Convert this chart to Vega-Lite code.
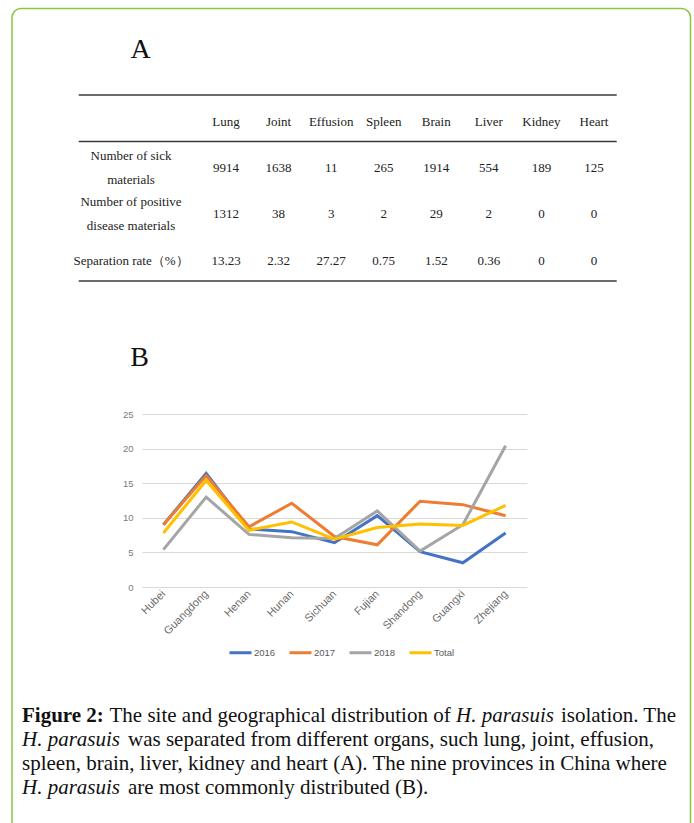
{
  "$schema": "https://vega.github.io/schema/vega-lite/v6.json",
  "width": 385,
  "height": 173,
  "autosize": {"type": "none"},
  "padding": {"left": 142, "top": 414, "right": 167, "bottom": 236},
  "background": "white",
  "config": {"view": {"stroke": null}},
  "resolve": {
    "scale": {"x": "independent", "y": "independent"},
    "axis": {"x": "independent", "y": "independent"}
  },
  "layer": [
    {
      "data": {"values": [{"box": "figure"}]},
      "mark": {"type": "rect", "filled": false, "stroke": "#8CC641", "strokeWidth": 1.5, "cornerRadius": 9},
      "encoding": {
        "x": {"datum": 0, "type": "quantitative", "scale": {"domain": [0, 1], "range": [-130, 548.5], "nice": false, "zero": false}, "axis": null},
        "x2": {"datum": 1},
        "y": {"datum": 0, "type": "quantitative", "scale": {"domain": [0, 1], "range": [-405.5, 426], "nice": false, "zero": false}, "axis": null},
        "y2": {"datum": 1}
      }
    },
    {
      "data": {"values": [{"panel": "A"}, {"panel": "B"}]},
      "mark": {"type": "text", "font": "Liberation Serif", "fontSize": 28, "align": "center", "baseline": "middle", "color": "#111111"},
      "encoding": {
        "x": {"field": "panel", "type": "nominal", "scale": {"type": "point", "domain": ["A", "B"], "range": [-1.5, -2.5], "padding": 0}, "axis": null},
        "y": {"field": "panel", "type": "nominal", "scale": {"type": "point", "domain": ["A", "B"], "range": [-364, -56], "padding": 0}, "axis": null},
        "text": {"field": "panel"}
      }
    },
    {
      "data": {"values": [{"row": "header"}, {"row": "sick"}]},
      "mark": {"type": "rule", "color": "#3a3a3a", "strokeWidth": 1.6},
      "encoding": {
        "x": {"datum": 0, "type": "quantitative", "scale": {"domain": [0, 1], "range": [-63.3, 474.7], "nice": false, "zero": false}, "axis": null},
        "x2": {"datum": 1},
        "y": {"field": "row", "type": "nominal", "bandPosition": 0, "scale": {"type": "band", "domain": ["header", "sick", "positive", "rate"], "range": [-319, -133], "paddingInner": 0, "paddingOuter": 0}, "axis": null}
      }
    },
    {
      "data": {"values": [{"row": "rate"}]},
      "mark": {"type": "rule", "color": "#3a3a3a", "strokeWidth": 1.6},
      "encoding": {
        "x": {"datum": 0, "type": "quantitative", "scale": {"domain": [0, 1], "range": [-63.3, 474.7], "nice": false, "zero": false}, "axis": null},
        "x2": {"datum": 1},
        "y": {"field": "row", "type": "nominal", "bandPosition": 1, "scale": {"type": "band", "domain": ["header", "sick", "positive", "rate"], "range": [-319, -133], "paddingInner": 0, "paddingOuter": 0}, "axis": null}
      }
    },
    {
      "data": {"values": [
        {"organ": "Lung"}, {"organ": "Joint"}, {"organ": "Effusion"}, {"organ": "Spleen"},
        {"organ": "Brain"}, {"organ": "Liver"}, {"organ": "Kidney"}, {"organ": "Heart"}
      ]},
      "mark": {"type": "text", "font": "Liberation Serif", "fontSize": 13, "align": "center", "baseline": "middle", "dy": 4, "color": "#222222"},
      "encoding": {
        "x": {"field": "organ", "type": "nominal", "scale": {"type": "point", "domain": ["Lung", "Joint", "Effusion", "Spleen", "Brain", "Liver", "Kidney", "Heart"], "range": [84, 452], "padding": 0}, "axis": null},
        "y": {"datum": "header", "type": "nominal", "scale": {"type": "band", "domain": ["header", "sick", "positive", "rate"], "range": [-319, -133], "paddingInner": 0, "paddingOuter": 0}, "axis": null},
        "text": {"field": "organ"}
      }
    },
    {
      "data": {"values": [
        {"organ": "Lung", "measure": "sick", "value": "9914"},
        {"organ": "Joint", "measure": "sick", "value": "1638"},
        {"organ": "Effusion", "measure": "sick", "value": "11"},
        {"organ": "Spleen", "measure": "sick", "value": "265"},
        {"organ": "Brain", "measure": "sick", "value": "1914"},
        {"organ": "Liver", "measure": "sick", "value": "554"},
        {"organ": "Kidney", "measure": "sick", "value": "189"},
        {"organ": "Heart", "measure": "sick", "value": "125"},
        {"organ": "Lung", "measure": "positive", "value": "1312"},
        {"organ": "Joint", "measure": "positive", "value": "38"},
        {"organ": "Effusion", "measure": "positive", "value": "3"},
        {"organ": "Spleen", "measure": "positive", "value": "2"},
        {"organ": "Brain", "measure": "positive", "value": "29"},
        {"organ": "Liver", "measure": "positive", "value": "2"},
        {"organ": "Kidney", "measure": "positive", "value": "0"},
        {"organ": "Heart", "measure": "positive", "value": "0"},
        {"organ": "Lung", "measure": "rate", "value": "13.23"},
        {"organ": "Joint", "measure": "rate", "value": "2.32"},
        {"organ": "Effusion", "measure": "rate", "value": "27.27"},
        {"organ": "Spleen", "measure": "rate", "value": "0.75"},
        {"organ": "Brain", "measure": "rate", "value": "1.52"},
        {"organ": "Liver", "measure": "rate", "value": "0.36"},
        {"organ": "Kidney", "measure": "rate", "value": "0"},
        {"organ": "Heart", "measure": "rate", "value": "0"}
      ]},
      "mark": {"type": "text", "font": "Liberation Serif", "fontSize": 13, "align": "center", "baseline": "middle", "dy": 3, "color": "#222222"},
      "encoding": {
        "x": {"field": "organ", "type": "nominal", "scale": {"type": "point", "domain": ["Lung", "Joint", "Effusion", "Spleen", "Brain", "Liver", "Kidney", "Heart"], "range": [84, 452], "padding": 0}, "axis": null},
        "y": {"field": "measure", "type": "nominal", "scale": {"type": "band", "domain": ["header", "sick", "positive", "rate"], "range": [-319, -133], "paddingInner": 0, "paddingOuter": 0}, "axis": null},
        "text": {"field": "value"}
      }
    },
    {
      "data": {"values": [
        {"measure": "sick", "label": "Number of sick\nmaterials"},
        {"measure": "positive", "label": "Number of positive\ndisease materials"}
      ]},
      "mark": {"type": "text", "font": "Liberation Serif", "fontSize": 13, "align": "center", "baseline": "middle", "dy": -9, "lineBreak": "\n", "lineHeight": 24, "color": "#222222"},
      "encoding": {
        "x": {"datum": "label", "type": "nominal", "scale": {"type": "point", "domain": ["label"], "range": [-11, -11], "padding": 0}, "axis": null},
        "y": {"field": "measure", "type": "nominal", "scale": {"type": "band", "domain": ["header", "sick", "positive", "rate"], "range": [-319, -133], "paddingInner": 0, "paddingOuter": 0}, "axis": null},
        "text": {"field": "label"}
      }
    },
    {
      "data": {"values": [
        {"measure": "rate", "label": "Separation rate（%）"}
      ]},
      "mark": {"type": "text", "font": "Liberation Serif", "fontSize": 13, "align": "center", "baseline": "middle", "dy": 3, "color": "#222222"},
      "encoding": {
        "x": {"datum": "label", "type": "nominal", "scale": {"type": "point", "domain": ["label"], "range": [-11, -11], "padding": 0}, "axis": null},
        "y": {"field": "measure", "type": "nominal", "scale": {"type": "band", "domain": ["header", "sick", "positive", "rate"], "range": [-319, -133], "paddingInner": 0, "paddingOuter": 0}, "axis": null},
        "text": {"field": "label"}
      }
    },
    {
      "data": {"values": [
        {"province": "Hubei", "series": "2016", "value": 9.0},
        {"province": "Guangdong", "series": "2016", "value": 16.4},
        {"province": "Henan", "series": "2016", "value": 8.4},
        {"province": "Hunan", "series": "2016", "value": 8.0},
        {"province": "Sichuan", "series": "2016", "value": 6.4},
        {"province": "Fujian", "series": "2016", "value": 10.3},
        {"province": "Shandong", "series": "2016", "value": 5.1},
        {"province": "Guangxi", "series": "2016", "value": 3.5},
        {"province": "Zhejiang", "series": "2016", "value": 7.8},
        {"province": "Hubei", "series": "2017", "value": 9.0},
        {"province": "Guangdong", "series": "2017", "value": 16.1},
        {"province": "Henan", "series": "2017", "value": 8.7},
        {"province": "Hunan", "series": "2017", "value": 12.1},
        {"province": "Sichuan", "series": "2017", "value": 7.3},
        {"province": "Fujian", "series": "2017", "value": 6.1},
        {"province": "Shandong", "series": "2017", "value": 12.4},
        {"province": "Guangxi", "series": "2017", "value": 11.9},
        {"province": "Zhejiang", "series": "2017", "value": 10.3},
        {"province": "Hubei", "series": "2018", "value": 5.4},
        {"province": "Guangdong", "series": "2018", "value": 13.0},
        {"province": "Henan", "series": "2018", "value": 7.6},
        {"province": "Hunan", "series": "2018", "value": 7.1},
        {"province": "Sichuan", "series": "2018", "value": 7.0},
        {"province": "Fujian", "series": "2018", "value": 11.0},
        {"province": "Shandong", "series": "2018", "value": 5.2},
        {"province": "Guangxi", "series": "2018", "value": 9.0},
        {"province": "Zhejiang", "series": "2018", "value": 20.4},
        {"province": "Hubei", "series": "Total", "value": 7.8},
        {"province": "Guangdong", "series": "Total", "value": 15.4},
        {"province": "Henan", "series": "Total", "value": 8.2},
        {"province": "Hunan", "series": "Total", "value": 9.4},
        {"province": "Sichuan", "series": "Total", "value": 6.9},
        {"province": "Fujian", "series": "Total", "value": 8.6},
        {"province": "Shandong", "series": "Total", "value": 9.1},
        {"province": "Guangxi", "series": "Total", "value": 8.9},
        {"province": "Zhejiang", "series": "Total", "value": 11.8}
      ]},
      "mark": {"type": "line", "strokeWidth": 3},
      "encoding": {
        "x": {
          "field": "province", "type": "nominal",
          "scale": {"type": "point", "domain": ["Hubei", "Guangdong", "Henan", "Hunan", "Sichuan", "Fujian", "Shandong", "Guangxi", "Zhejiang"], "padding": 0.5},
          "axis": {"title": null, "labelAngle": -45, "labelAlign": "right", "labelBaseline": "middle", "labelPadding": 5, "domain": false, "ticks": false, "grid": false, "labelFont": "Liberation Sans", "labelFontSize": 11, "labelColor": "#6b6b6b"}
        },
        "y": {
          "field": "value", "type": "quantitative",
          "scale": {"domain": [0, 25], "nice": false},
          "axis": {"title": null, "values": [0, 5, 10, 15, 20, 25], "grid": true, "gridColor": "#d9d9d9", "gridWidth": 1, "domain": false, "ticks": false, "labelPadding": 9, "labelFont": "Liberation Sans", "labelFontSize": 9.5, "labelColor": "#7a7a7a"}
        },
        "color": {
          "field": "series", "type": "nominal",
          "scale": {"domain": ["2016", "2017", "2018", "Total"], "range": ["#4472C4", "#ED7D31", "#A5A5A5", "#FFC000"]},
          "legend": {"title": null, "orient": "none", "legendX": 86, "legendY": 226, "direction": "horizontal", "symbolType": "stroke", "symbolSize": 484, "symbolStrokeWidth": 3, "labelOffset": 1, "columnPadding": 7, "padding": 0, "labelFont": "Liberation Sans", "labelFontSize": 9.5, "labelColor": "#595959"}
        }
      }
    },
    {
      "data": {"values": [{"line": 1, "text": "Figure 2:"}]},
      "mark": {"type": "text", "font": "Liberation Serif", "fontSize": 21, "fontWeight": "bold", "align": "left", "baseline": "middle", "color": "#111111"},
      "encoding": {
        "x": {"datum": "left", "type": "nominal", "scale": {"type": "point", "domain": ["left", "right"], "range": [-120, 534], "padding": 0}, "axis": null},
        "y": {"field": "line", "type": "ordinal", "scale": {"type": "point", "domain": [1, 2, 3, 4], "range": [302, 374], "padding": 0}, "axis": null},
        "text": {"field": "text"}
      }
    },
    {
      "data": {"values": [{"line": 2, "text": "H. parasuis"}, {"line": 4, "text": "H. parasuis"}]},
      "mark": {"type": "text", "font": "Liberation Serif", "fontSize": 21, "fontStyle": "italic", "align": "left", "baseline": "middle", "color": "#111111"},
      "encoding": {
        "x": {"datum": "left", "type": "nominal", "scale": {"type": "point", "domain": ["left", "right"], "range": [-120, 534], "padding": 0}, "axis": null},
        "y": {"field": "line", "type": "ordinal", "scale": {"type": "point", "domain": [1, 2, 3, 4], "range": [302, 374], "padding": 0}, "axis": null},
        "text": {"field": "text"}
      }
    },
    {
      "data": {"values": [{"line": 3, "text": "spleen, brain, liver, kidney and heart (A). The nine provinces in China where"}]},
      "mark": {"type": "text", "font": "Liberation Serif", "fontSize": 21, "align": "left", "baseline": "middle", "color": "#111111"},
      "encoding": {
        "x": {"datum": "left", "type": "nominal", "scale": {"type": "point", "domain": ["left", "right"], "range": [-120, 534], "padding": 0}, "axis": null},
        "y": {"field": "line", "type": "ordinal", "scale": {"type": "point", "domain": [1, 2, 3, 4], "range": [302, 374], "padding": 0}, "axis": null},
        "text": {"field": "text"}
      }
    },
    {
      "data": {"values": [{"line": 1, "text": "isolation. The"}]},
      "mark": {"type": "text", "font": "Liberation Serif", "fontSize": 21, "align": "right", "baseline": "middle", "color": "#111111"},
      "encoding": {
        "x": {"datum": "right", "type": "nominal", "scale": {"type": "point", "domain": ["left", "right"], "range": [-120, 534], "padding": 0}, "axis": null},
        "y": {"field": "line", "type": "ordinal", "scale": {"type": "point", "domain": [1, 2, 3, 4], "range": [302, 374], "padding": 0}, "axis": null},
        "text": {"field": "text"}
      }
    },
    {
      "data": {"values": [{"line": 2, "text": "was separated from different organs, such lung, joint, effusion,"}, {"line": 4, "text": "are most commonly distributed (B)."}]},
      "mark": {"type": "text", "font": "Liberation Serif", "fontSize": 21, "align": "left", "baseline": "middle", "dx": 106, "color": "#111111"},
      "encoding": {
        "x": {"datum": "left", "type": "nominal", "scale": {"type": "point", "domain": ["left", "right"], "range": [-120, 534], "padding": 0}, "axis": null},
        "y": {"field": "line", "type": "ordinal", "scale": {"type": "point", "domain": [1, 2, 3, 4], "range": [302, 374], "padding": 0}, "axis": null},
        "text": {"field": "text"}
      }
    },
    {
      "data": {"values": [{"line": 1, "text": "The site and geographical distribution of"}]},
      "mark": {"type": "text", "font": "Liberation Serif", "fontSize": 21, "align": "left", "baseline": "middle", "dx": 87.5, "color": "#111111"},
      "encoding": {
        "x": {"datum": "left", "type": "nominal", "scale": {"type": "point", "domain": ["left", "right"], "range": [-120, 534], "padding": 0}, "axis": null},
        "y": {"field": "line", "type": "ordinal", "scale": {"type": "point", "domain": [1, 2, 3, 4], "range": [302, 374], "padding": 0}, "axis": null},
        "text": {"field": "text"}
      }
    },
    {
      "data": {"values": [{"line": 1, "text": "H. parasuis"}]},
      "mark": {"type": "text", "font": "Liberation Serif", "fontSize": 21, "fontStyle": "italic", "align": "left", "baseline": "middle", "dx": 434, "color": "#111111"},
      "encoding": {
        "x": {"datum": "left", "type": "nominal", "scale": {"type": "point", "domain": ["left", "right"], "range": [-120, 534], "padding": 0}, "axis": null},
        "y": {"field": "line", "type": "ordinal", "scale": {"type": "point", "domain": [1, 2, 3, 4], "range": [302, 374], "padding": 0}, "axis": null},
        "text": {"field": "text"}
      }
    }
  ]
}
